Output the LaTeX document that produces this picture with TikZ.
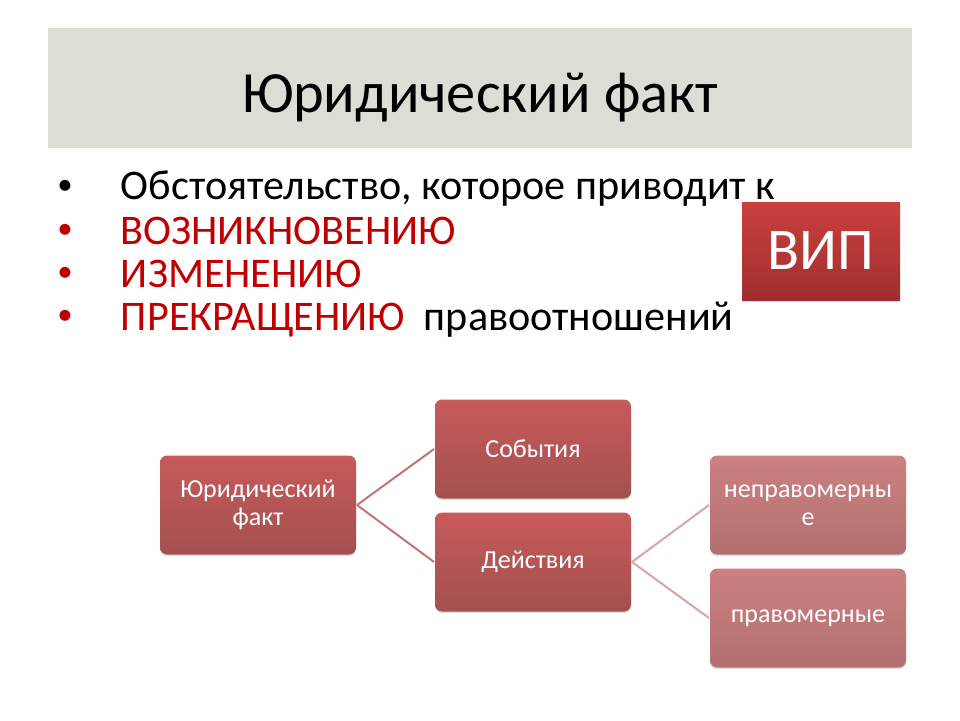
\documentclass[tikz,border=0pt]{standalone}
\usepackage{fontspec}
\setmainfont{Carlito}
\usepackage{tikz}
\usetikzlibrary{shadows}

\definecolor{bandgray}{RGB}{221,221,214}
\definecolor{darkred}{RGB}{192,0,0}
\definecolor{boxtop}{RGB}{199,90,90}
\definecolor{boxbot}{RGB}{164,80,80}
\definecolor{lighttop}{RGB}{204,128,128}
\definecolor{lightbot}{RGB}{178,112,112}
\definecolor{viptop}{RGB}{202,64,62}
\definecolor{vipbot}{RGB}{160,46,46}
\definecolor{linkdark}{RGB}{200,112,112}
\definecolor{linklight}{RGB}{220,162,162}

\begin{document}
\begin{tikzpicture}[line width=1.4pt]
\useasboundingbox[fill=white] (0,0) rectangle (24,18);
\tikzstyle{fact}=[rectangle,rounded corners=5pt,minimum width=4.9cm,minimum height=2.475cm,
  top color=boxtop,bottom color=boxbot,draw=none,text=white,align=center,
  font=\fontsize{18.5}{20}\selectfont,drop shadow={shadow xshift=0pt,shadow yshift=-1.2pt,opacity=.25}]
\tikzstyle{kind}=[fact,top color=lighttop,bottom color=lightbot]
\tikzstyle{item}=[anchor=base west,inner sep=0pt,font=\fontsize{30}{34}\selectfont]
\tikzstyle{dot}=[anchor=base,inner sep=0pt,font=\fontsize{22}{26}\selectfont]
% title band
\fill[bandgray] (1.2,14.3) rectangle (22.8,17.3);
\node[font=\fontsize{41.5}{46}\selectfont] (title) at (12,15.55) {Юридический факт};
% bullet list
\node[dot] (b1) at (1.625,13.15) {•}; %%
\node[dot,darkred] (b2) at (1.625,12.05) {•}; %%
\node[dot,darkred] (b3) at (1.625,10.975) {•}; %%
\node[dot,darkred] (b4) at (1.625,9.9) {•}; %%
\node[item] (l1) at (3.0,13.0) {Обстоятельство, которое приводит к}; %%
\node[item,darkred] (l2) at (3.0,11.9) {ВОЗНИКНОВЕНИЮ}; %%
\node[item,darkred] (l3) at (3.0,10.825) {ИЗМЕНЕНИЮ}; %%
\node[item] (l4) at (3.0,9.75) {\textcolor{darkred}{ПРЕКРАЩЕНИЮ}\ \ правоотношений};
% vip box
\node[rectangle,minimum width=3.95cm,minimum height=2.45cm,top color=viptop,
  bottom color=vipbot,text=white,font=\fontsize{42}{46}\selectfont,
  drop shadow={shadow xshift=0pt,shadow yshift=-1.5pt,opacity=.3}] (vip) at (20.525,11.725) {ВИП};
% tree
\node[fact] (yf) at (6.45,5.375) {Юридический\\факт}; %%
\node[fact] (sob) at (13.325,6.775) {События}; %%
\node[fact] (dei) at (13.325,3.95) {Действия}; %%
\node[kind] (nepr) at (20.2,5.375) {неправомерны\\е}; %%
\node[kind] (prav) at (20.2,2.55) {правомерные};
\draw[linkdark] (yf.east)--(sob.west); %%
\draw[linkdark] (yf.east)--(dei.west); %%
\draw[linklight] (dei.east)--(nepr.west); %%
\draw[linklight] (dei.east)--(prav.west); %%
\end{tikzpicture}
\end{document}
